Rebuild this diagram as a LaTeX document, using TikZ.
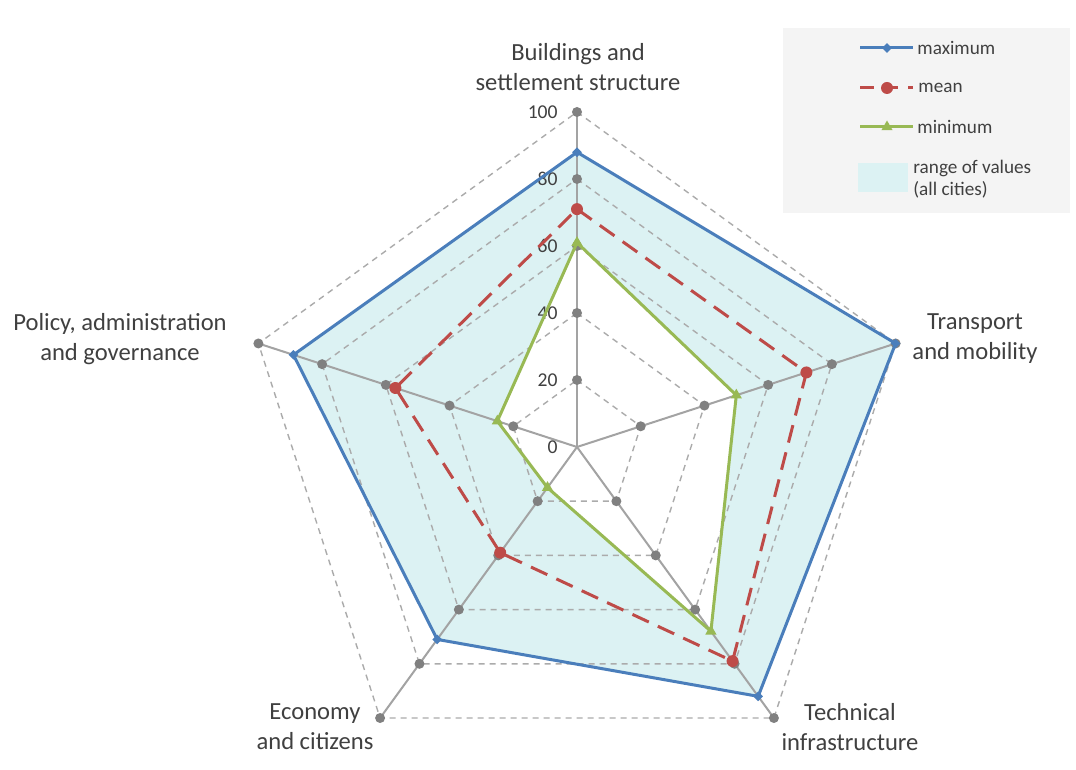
\documentclass[tikz,border=0pt]{standalone}
\usepackage{fontspec}
\setmainfont{Carlito}
\usetikzlibrary{shapes.geometric}
\definecolor{maxc}{HTML}{4A7EBB}
\definecolor{meanc}{HTML}{BE4B48}
\definecolor{minc}{HTML}{98B954}
\definecolor{rangec}{HTML}{DCF2F3}
\definecolor{gridc}{HTML}{ABABAB}
\definecolor{axisc}{HTML}{A3A3A3}
\definecolor{dotc}{HTML}{808080}
\definecolor{txt}{HTML}{404040}
\definecolor{legbg}{HTML}{F4F4F4}
\tikzset{
  axlabel/.style={text=txt, align=center, font=\fontsize{12.3}{15}\selectfont, inner sep=0pt},
  ticklabel/.style={text=txt, anchor=east, font=\fontsize{9.8}{11}\selectfont, inner sep=0pt},
  leglabel/.style={text=txt, anchor=west, align=left, font=\fontsize{9.6}{11}\selectfont, inner sep=0pt},
  griddash/.style={gridc, line width=0.7pt, dash pattern=on 3pt off 2.5pt},
  axisline/.style={axisc, line width=1pt},
  gdot/.style={circle, fill=dotc, inner sep=0pt, minimum size=5pt},
  maxline/.style={maxc, line width=1.5pt, line join=round},
  meanline/.style={meanc, line width=1.5pt, dash pattern=on 9pt off 5pt, line join=round},
  minline/.style={minc, line width=1.5pt, line join=round},
  maxmark/.style={diamond, fill=maxc, inner sep=0pt, minimum size=5pt},
  meanmark/.style={circle, fill=meanc, inner sep=0pt, minimum size=6pt},
  minmark/.style={regular polygon, regular polygon sides=3, fill=minc, inner sep=0pt, minimum size=6.5pt},
}
\begin{document}
\begin{tikzpicture}[x=0.5pt,y=0.5pt]
\useasboundingbox (0,0) rectangle (1076,770);
\fill[white] (0,0) rectangle (1076,770);
% legend background
\fill[legbg] (783,557) rectangle (1070,742);
\begin{scope}[shift={(577,323)}]
  \coordinate (O) at (0,0);
  \foreach \a [count=\i] in {90,18,-54,-126,162} {
    \coordinate (ax\i) at (\a:335);
  }
  \foreach \a/\v [count=\i] in {90/88,18/100,-54/92,-126/71,162/89}
    \coordinate (mx\i) at (\a:{\v*3.35});
  \foreach \a/\v [count=\i] in {90/71,18/72,-54/79,-126/39,162/57}
    \coordinate (me\i) at (\a:{\v*3.35});
  \foreach \a/\v [count=\i] in {90/61,18/50,-54/68,-126/15,162/25}
    \coordinate (mn\i) at (\a:{\v*3.35});
  % range fill
  \fill[rangec, even odd rule] (mx1)--(mx2)--(mx3)--(mx4)--(mx5)--cycle
                               (mn1)--(mn2)--(mn3)--(mn4)--(mn5)--cycle;
  % grid pentagons
  \foreach \r in {1,...,5}
    \draw[griddash] (90:{\r*67})--(18:{\r*67})--(-54:{\r*67})--(-126:{\r*67})--(162:{\r*67})--cycle;
  % axes
  \foreach \i in {1,...,5}
    \draw[axisline] (O)--(ax\i);
  % gray dots
  \foreach \a [count=\i] in {90,18,-54,-126,162}
    \foreach \r in {1,...,5}
      \node[gdot] (d\i\r) at (\a:{\r*67}) {};
  % tick labels
  \foreach \v [count=\k] in {0,20,40,60,80,100}
    \node[ticklabel] (t\k) at (-19,{\v*3.35}) {\v};
  % series
  \draw[maxline] (mx1)--(mx2)--(mx3)--(mx4)--(mx5)--cycle;
  \draw[meanline] (me1)--(me2)--(me3)--(me4)--(me5)--cycle;
  \draw[minline] (mn1)--(mn2)--(mn3)--(mn4)--(mn5)--cycle;
  \foreach \i in {1,...,5} {
    \node[maxmark] at (mx\i) {};
    \node[meanmark] at (me\i) {};
    \node[minmark] at (mn\i) {};
  }
\end{scope}
% axis labels
\node[axlabel] (l1) at (578,703) {Buildings and\\settlement structure};
\node[axlabel] (l2) at (975,431) {Transport\\and mobility};
\node[axlabel] (l3) at (850,43) {Technical\\infrastructure};
\node[axlabel] (l4) at (315,43) {Economy\\and citizens};
\node[axlabel] (l5) at (120,431) {Policy, administration\\and governance};
% legend
\coordinate (lga) at (860,722); \coordinate (lgb) at (913,722);
\draw[maxline] (lga)--(lgb);
\node[maxmark] (lgm1) at (887,722) {};
\node[leglabel] (lt1) at (917,722) {maximum};
\coordinate (lgc) at (860,682); \coordinate (lgd) at (913,682);
\draw[meanc, line width=1.5pt, dash pattern=on 7pt off 5pt] (lgc)--(lgd);
\node[meanmark] (lgm2) at (887,682) {};
\node[leglabel] (lt2) at (918,682) {mean};
\coordinate (lge) at (860,643); \coordinate (lgf) at (913,643);
\draw[minline] (lge)--(lgf);
\node[minmark] (lgm3) at (887,643) {};
\node[leglabel] (lt3) at (917,643) {minimum};
\fill[rangec] (858,578) rectangle (908,607);
\node[leglabel] (lt4) at (913,591) {range of values\\(all cities)};
\end{tikzpicture}
\end{document}
